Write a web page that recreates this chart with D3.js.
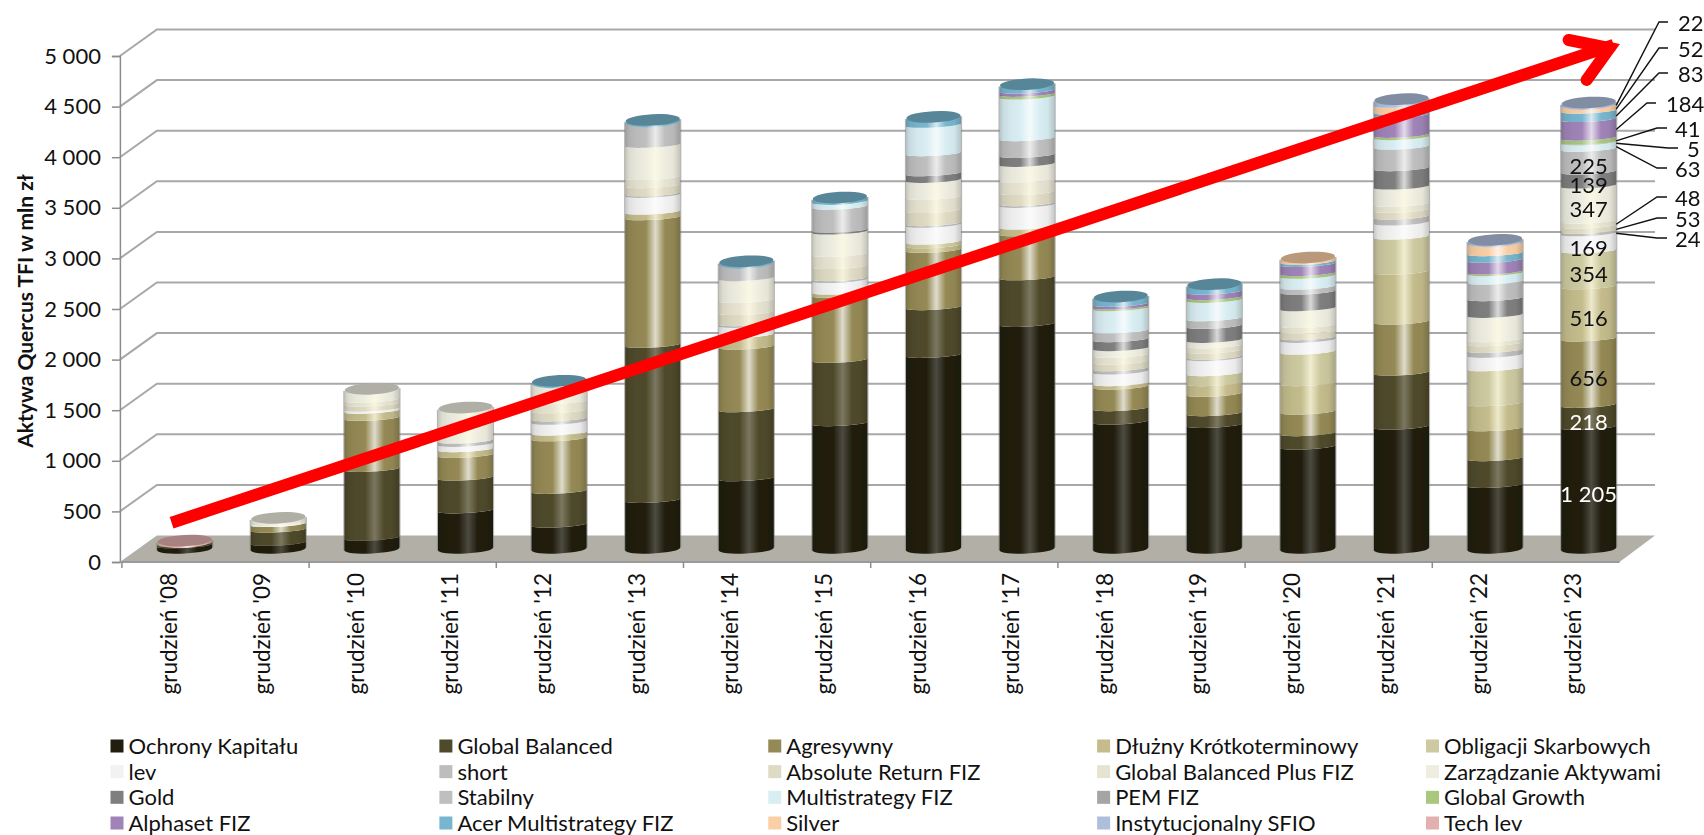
<!DOCTYPE html>
<html><head><meta charset="utf-8">
<script src="https://cdnjs.cloudflare.com/ajax/libs/d3/7.8.5/d3.min.js"></script>
<style>html,body{margin:0;padding:0;background:#fff}svg{display:block}text{font-family:Lato,"Open Sans",sans-serif;fill:#111}</style>
</head><body><svg id="c" width="1704" height="835"></svg>
<script>
const categories=["grudzień '08","grudzień '09","grudzień '10","grudzień '11","grudzień '12","grudzień '13","grudzień '14","grudzień '15","grudzień '16","grudzień '17","grudzień '18","grudzień '19","grudzień '20","grudzień '21","grudzień '22","grudzień '23"];
const yTicks=[0,500,1000,1500,2000,2500,3000,3500,4000,4500,5000];
const seriesNames=["Ochrony Kapitału","Global Balanced","Agresywny","Dłużny Krótkoterminowy","Obligacji Skarbowych","lev","short","Absolute Return FIZ","Global Balanced Plus FIZ","Zarządzanie Aktywami","Gold","Stabilny","Multistrategy FIZ","PEM FIZ","Global Growth","Alphaset FIZ","Acer Multistrategy FIZ","Silver","Instytucjonalny SFIO","Tech lev"];
const seriesColors=["#211e10","#4f4a2b","#958a55","#c4bc8c","#cdc9a0","#f2f2f2","#bdbdbd","#dedac4","#e6e3d1","#eeede0","#7f7f7f","#bfbfbf","#d9eef3","#a5a5a5","#a9c77f","#a084b8","#78b6cf","#fbcfa5","#adbfdd","#e3b0b0"];
const ochrony=[35,60,110,380,240,484,698,1242,1917,2223,1258,1225,1011,1209,632,1205];
const globalBalanced=[15,130,680,325,333,1532,682,626,471,461,132,116,132,533,264,218];
const agresywny=[10,55,505,223,520,1261,619,642,567,435,214,191,214,504,296,656];
const dluzny=[0,0,70,57,55,56,116,33,45,66,33,105,280,494,247,516];
const obligacji=[0,0,0,0,0,0,0,0,37,0,0,99,313,346,346,354];
const lev=[0,10,20,52,108,165,98,115,165,214,115,148,115,139,132,169];
const shortF=[0,0,0,33,33,16,17,17,16,17,33,16,27,59,49,24];
const absoluteReturn=[0,0,50,0,80,80,110,120,130,110,66,60,60,66,66,53];
const gbPlus=[0,0,40,0,90,80,120,120,130,120,66,50,60,60,40,48];
const zarzadzanie=[0,45,100,320,185,318,215,221,168,158,66,55,166,170,240,347];
const gold=[0,0,0,0,0,0,0,16,66,89,89,139,165,182,165,139];
const stabilny=[0,0,0,0,0,232,148,230,198,165,85,75,49,214,165,225];
const multistrategy=[0,0,0,0,0,0,0,50,280,412,221,181,106,92,82,63];
const pem=[0,0,0,0,0,0,0,0,0,0,0,0,0,0,0,5];
const globalGrowth=[0,0,0,0,0,0,0,0,0,26,17,27,26,23,16,41];
const alphaset=[0,0,0,0,0,0,0,0,0,33,26,56,92,198,116,184];
const acer=[0,0,0,0,10,8,12,33,72,56,66,66,23,33,66,83];
const silver=[0,0,0,0,0,0,0,0,0,0,0,0,33,66,98,52];
const instytucjonalny=[0,0,0,0,0,0,0,0,0,0,0,0,0,49,27,22];
const techLev=[15,0,0,0,0,0,0,0,0,0,0,0,0,0,0,0];
const seriesValues=[ochrony,globalBalanced,agresywny,dluzny,obligacji,lev,shortF,absoluteReturn,gbPlus,zarzadzanie,gold,stabilny,multistrategy,pem,globalGrowth,alphaset,acer,silver,instytucjonalny,techLev];
const trendValues=[260,5000];

const svg=d3.select("#c");
const defs=svg.append("defs");
defs.append("filter").attr("id","soft").attr("filterUnits","userSpaceOnUse").attr("x",0).attr("y",0).attr("width",1704).attr("height",835)
  .append("feGaussianBlur").attr("stdDeviation",0.55);
const F=22, RX=27.5, RY_TOP=6.5, RY_IN=2.5, RY_BOT=4.5, TILT=3;
const yFront=d3.scaleLinear().domain([0,5000]).range([562,56]);
const yWall=d3.scaleLinear().domain([0,5000]).range([535.5,29.5]);
const yBar=d3.scaleLinear().domain([0,5000]).range([549,43]);
const xBar=d3.scaleBand().domain(categories).range([137.9,1635.5]);
const xFront=d3.scaleBand().domain(categories).range([121.9,1619.5]);
const xIdx=d3.scaleLinear().domain([0,15]).range([xBar(categories[0])+xBar.bandwidth()/2,xBar(categories[15])+xBar.bandwidth()/2]);
const loc=d3.formatLocale({decimal:",",thousands:" ",grouping:[3],currency:["",""]});
const fmt=loc.format(",");

// floor
const x0=xFront.range()[0],x1=xFront.range()[1],wx0=xBar.range()[0]+19,wx1=x1+35.5;
svg.append("polygon").attr("fill","#b2afa7")
  .attr("points",[[x0-2,yFront(0)],[wx0,yWall(0)],[wx1,yWall(0)],[x1,yFront(0)]].join(" "));
// walls
const grid=svg.append("g").attr("fill","none").attr("stroke","#a8a8a8").attr("stroke-width",2);
yTicks.filter(d=>d>0).forEach(v=>{
  grid.append("path").attr("d",`M${x0-2},${yFront(v)}L${wx0},${yWall(v)}H${wx1}`);
});
// axes
const ay=svg.append("g").attr("transform",`translate(${x0-2},0)`).call(d3.axisLeft(yFront).tickValues(yTicks).tickFormat(fmt).tickSize(8).tickPadding(11));
ay.select(".domain").attr("stroke","#8c8c8c").attr("stroke-width",1.5);
ay.selectAll(".tick line").attr("stroke","#8c8c8c").attr("stroke-width",1.5);
ay.selectAll("text").style("font-size",F+"px").style("font-family","Lato").attr("fill","#111");
const ax=svg.append("g");
ax.append("line").attr("x1",x0-2).attr("x2",x1).attr("y1",yFront(0)).attr("y2",yFront(0)).attr("stroke","#9a9a9a").attr("stroke-width",2);
ax.selectAll("line.t").data(categories.filter((d,i)=>i%2==0)).join("line").attr("class","t")
  .attr("x1",d=>xFront(d)).attr("x2",d=>xFront(d)).attr("y1",yFront(0)).attr("y2",yFront(0)+6).attr("stroke","#8c8c8c").attr("stroke-width",1.5);
ax.selectAll("text").data(categories).join("text").attr("text-anchor","end").attr("dy","0.36em")
  .attr("transform",d=>`translate(${xFront(d)+xFront.bandwidth()/2},573) rotate(-90)`).style("font-size","22.5px").text(d=>d);
svg.append("text").attr("transform","translate(25,311) rotate(-90)").attr("text-anchor","middle").attr("dy","0.36em")
  .style("font-size","21px").style("font-weight",700).text("Aktywa Quercus TFI w mln zł");

// gradients
const shade=(c,k)=>d3.rgb(c).darker(k).formatHex();
seriesColors.forEach((c,i)=>{
  const lum=d3.hsl(c).l, mix=lum<0.2?0.2:(lum<0.4?0.25:0.7);
  const hi=d3.interpolateRgb(c,i>=3&&i<=9&&i!=5&&i!=6?"#fffce6":"#ffffff")(mix);
  const g=defs.append("linearGradient").attr("id","g"+i);
  [[0,shade(c,.55)],[.07,shade(c,.22)],[.2,shade(c,.08)],[.38,c],[.55,hi],[.72,c],[.88,shade(c,.1)],[1,shade(c,.55)]]
    .forEach(s=>g.append("stop").attr("offset",s[0]).attr("stop-color",s[1]));
});

// stacked cylinders
const rows=categories.map((c,i)=>{const o={cat:c};seriesNames.forEach((s,k)=>o[s]=seriesValues[k][i]);return o;});
const stacked=d3.stack().keys(seriesNames)(rows);
const sin=Math.sin(TILT*Math.PI/180)*RX;
const bars=svg.append("g").attr("filter","url(#soft)");
categories.forEach((c,i)=>{
  const cx=xBar(c)+xBar.bandwidth()/2;
  const total=stacked[stacked.length-1][i][1];
  bars.append("path").attr("fill","none").attr("stroke","#777").attr("stroke-opacity",.55).attr("stroke-width",2.2)
    .attr("d",`M${cx-RX},${yBar(total)+sin}V${yBar(0)+sin}M${cx+RX},${yBar(total)-sin}V${yBar(0)-sin}`);
  let topK=0;
  stacked.forEach((s,k)=>{
    const v=s[i];
    if(v[1]-v[0]<=0) return;
    topK=k;
    const a=yBar(v[0]),b=yBar(v[1]);
    const ryA=v[0]===0?RY_BOT:RY_IN;
    bars.append("path").attr("fill",`url(#g${k})`)
      .attr("d",`M${cx-RX},${b+sin}A${RX},${RY_IN} ${-TILT} 0 0 ${cx+RX},${b-sin}L${cx+RX},${a-sin}A${RX},${ryA} ${-TILT} 0 1 ${cx-RX},${a+sin}Z`);
  });
  const col=seriesColors[topK], t=yBar(total);
  bars.append("path").attr("fill",`url(#g${topK})`)
    .attr("d",`M${cx-RX},${t+sin}A${RX},${RY_TOP} ${-TILT} 0 0 ${cx+RX},${t-sin}A${RX},${RY_IN} ${-TILT} 0 1 ${cx-RX},${t+sin}Z`);
  bars.append("ellipse").attr("cx",cx).attr("cy",t-0.8).attr("rx",RX-0.3).attr("ry",RY_TOP-0.8)
    .attr("transform",`rotate(${-TILT} ${cx} ${t})`).attr("fill",d3.rgb(col).darker(.85).formatHex());
});

// trend arrow
const tx0=xIdx(-0.14), ty0=yBar(trendValues[0]), tx1=xIdx(15.33), ty1=yBar(trendValues[1]);
const arrow=svg.append("g").attr("fill","none").attr("stroke","#ff0000").attr("stroke-width",12);
arrow.append("line").attr("x1",tx0).attr("y1",ty0).attr("x2",tx1-6).attr("y2",ty1+2);
arrow.append("path").attr("stroke-linecap","round").attr("stroke-linejoin","miter").attr("stroke-miterlimit",10)
  .attr("d",`M${tx1-51},${ty1-3}L${tx1-10},${ty1+5}L${tx1-33},${ty1+37}`);

// data labels of the last column
const last=categories[15], lastC=xBar(last)+xBar.bandwidth()/2, lastR=lastC+RX;
const seg=k=>stacked[k][15];
const mid=k=>(seg(k)[0]+seg(k)[1])/2;
const inside=[[0,"#fff"],[1,"#fff"],[2,"#111"],[3,"#111"],[4,"#111"],[5,"#111"],[9,"#111"],[10,"#111"],[11,"#111"]];
svg.append("g").selectAll("text").data(inside).join("text").attr("text-anchor","middle").attr("dy","0.36em")
  .attr("x",lastC).attr("y",d=>yBar(mid(d[0]))+6).style("fill",d=>d[1]).style("font-size",F+"px")
  .text(d=>fmt(seriesValues[d[0]][15]));
const leaderLayout=[{k:18,ex:1659,ey:22,lx:1668,tx:1678},{k:17,ex:1659,ey:48,lx:1668,tx:1678},{k:16,ex:1659,ey:73,lx:1668,tx:1678},{k:15,ex:1647,ey:103,lx:1656,tx:1666},{k:14,ex:1657,ey:128,lx:1667,tx:1675},{k:13,ex:1668,ey:148,lx:1678,tx:1687},{k:12,ex:1657,ey:168,lx:1667,tx:1675},{k:8,ex:1657,ey:197,lx:1667,tx:1675},{k:7,ex:1657,ey:218,lx:1667,tx:1675},{k:6,ex:1657,ey:238,lx:1667,tx:1675}];
const lead=svg.append("g");
lead.selectAll("path").data(leaderLayout).join("path").attr("fill","none").attr("stroke","#111").attr("stroke-width",1.4)
  .attr("d",d=>`M${lastR},${yBar(mid(d.k))+1}L${d.ex},${d.ey}H${d.lx}`);
lead.selectAll("text").data(leaderLayout).join("text").attr("x",d=>d.tx).attr("y",d=>d.ey+1).attr("dy","0.36em")
  .style("font-size",F+"px").text(d=>fmt(seriesValues[d.k][15]));

// legend
const legX=d3.scalePoint().domain(d3.range(5)).range([110.5,1426]);
const legY=d3.scalePoint().domain(d3.range(4)).range([746,823]);
const leg=svg.append("g").selectAll("g").data(seriesNames).join("g")
  .attr("transform",(d,i)=>`translate(${legX(i%5)},${legY(Math.floor(i/5))})`);
leg.append("rect").attr("y",-6.5).attr("width",13).attr("height",13).attr("fill",(d,i)=>seriesColors[i]);
leg.append("text").attr("x",18).attr("dy","0.36em").style("font-size","22px").text(d=>d);
</script></body></html>
